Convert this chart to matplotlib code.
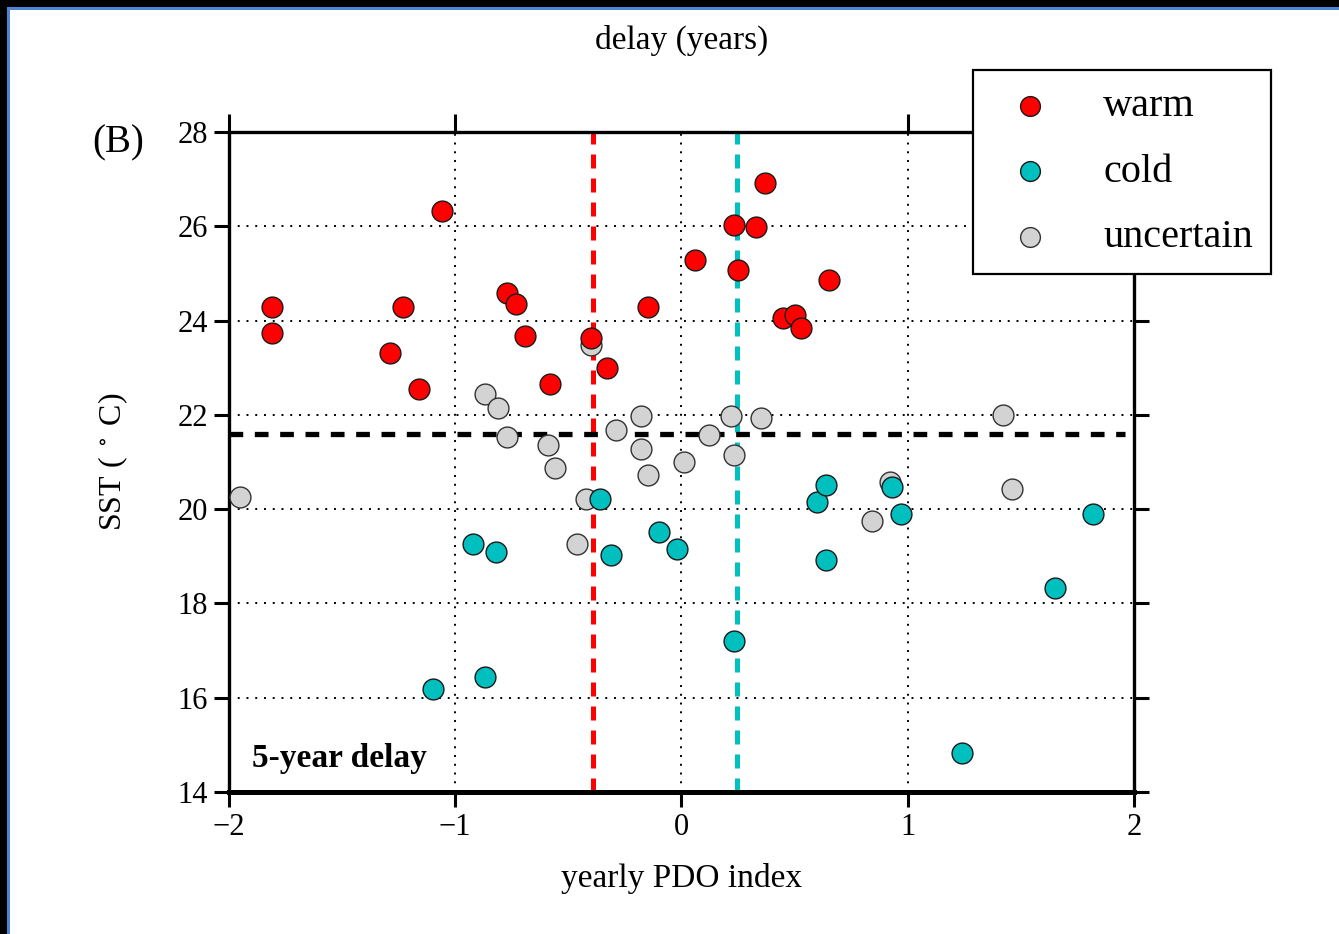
import matplotlib
matplotlib.use("Agg")
import matplotlib.pyplot as plt
from matplotlib.patches import Rectangle

plt.rcParams['font.family'] = ['Liberation Serif', 'DejaVu Serif']
plt.rcParams['mathtext.fontset'] = 'stix'

# yearly PDO index vs SST, classified events
warm_pdo = [-1.81, -1.81, -1.23, -1.29, -1.16, -1.06, -0.77, -0.73, -0.69, -0.58,
            -0.40, -0.33, -0.15, 0.06, 0.23, 0.33, 0.25, 0.37, 0.45, 0.50, 0.53, 0.65]
warm_sst = [24.29, 23.74, 24.29, 23.31, 22.55, 26.32, 24.58, 24.35, 23.67, 22.65,
            23.63, 23.00, 24.29, 25.28, 26.03, 25.98, 25.07, 26.92, 24.05, 24.12, 23.84, 24.86]

cold_pdo = [-1.10, -0.87, -0.92, -0.82, -0.36, -0.31, -0.10, -0.02, 0.23, 0.60,
            0.64, 0.64, 0.93, 0.97, 1.24, 1.65, 1.82]
cold_sst = [16.18, 16.44, 19.26, 19.09, 20.21, 19.03, 19.51, 19.15, 17.20, 20.15,
            20.51, 18.92, 20.47, 19.90, 14.83, 18.33, 19.90]

unc_pdo = [-1.95, -0.87, -0.81, -0.77, -0.59, -0.56, -0.40, -0.42, -0.46, -0.29,
           -0.18, -0.18, -0.15, 0.01, 0.12, 0.22, 0.23, 0.35, 0.92, 0.84, 1.42, 1.46]
unc_sst = [20.26, 22.44, 22.15, 21.53, 21.36, 20.87, 23.48, 20.21, 19.26, 21.68,
           21.98, 21.28, 20.72, 21.00, 21.57, 21.98, 21.15, 21.93, 20.58, 19.75, 22.00, 20.43]

# thresholds
pdo_warm_thr = -0.39
pdo_cold_thr = 0.245
sst_thr = 21.6

xticks = [-2, -1, 0, 1, 2]
xticklabels = ['\u22122', '\u22121', '0', '1', '2']
top_xticks = [-2, -1, 1, 2]
yticks = [14, 16, 18, 20, 22, 24, 26, 28]

fig = plt.figure(figsize=(13.39, 9.34), dpi=100)
fig.patch.set_facecolor('white')

# dark frame along top and left edge
W, H = 1339, 934
fig.patches.append(Rectangle((0, 1 - 7 / H), 1, 7 / H, transform=fig.transFigure,
                             facecolor='black', edgecolor='none', zorder=-1))
fig.patches.append(Rectangle((0, 0), 7 / W, 1, transform=fig.transFigure,
                             facecolor='black', edgecolor='none', zorder=-1))
fig.patches.append(Rectangle((7 / W, 0), 2.5 / W, 1 - 7 / H, transform=fig.transFigure,
                             facecolor='#4a86d4', edgecolor='none', zorder=-1))
fig.patches.append(Rectangle((7 / W, 1 - 9.5 / H), 1, 2.5 / H, transform=fig.transFigure,
                             facecolor='#4a86d4', edgecolor='none', zorder=-1))

ax = fig.add_axes([229 / W, 1 - 792 / H, (1134 - 229) / W, (792 - 132) / H])
ax.set_xlim(-2, 2)
ax.set_ylim(14, 28)

ax.grid(True, color='black', linestyle=(0, (1, 3.5)), linewidth=1.4, zorder=0)

ms = 225
ax.scatter(unc_pdo, unc_sst, s=ms, c='#d3d3d3', edgecolors='#333333', linewidths=1.0,
           zorder=3, label='uncertain')
ax.scatter(cold_pdo, cold_sst, s=ms, c='#00bfbf', edgecolors='#1a1a1a', linewidths=1.0,
           zorder=3, label='cold')
ax.scatter(warm_pdo, warm_sst, s=ms, c='#ff0000', edgecolors='#1a1a1a', linewidths=1.0,
           zorder=3, label='warm')

ax.axvline(pdo_warm_thr, color='#ff0000', linewidth=3.6, dashes=(2.8, 2.0), zorder=2)
ax.axvline(pdo_cold_thr, color='#00c0c0', linewidth=3.6, dashes=(2.8, 2.0), zorder=2)
ax.plot([-2, 1.96], [sst_thr, sst_thr], color='black', linewidth=3.8,
        dashes=(2.6, 2.2), zorder=2)

ax.set_xticks(xticks)
ax.set_xticklabels(xticklabels)
ax.set_yticks(yticks)
ax.tick_params(axis='both', direction='out', length=11, width=2.2, labelsize=22,
               pad=4, right=True)
for side in ['left', 'right', 'top']:
    ax.spines[side].set_linewidth(2.4)
ax.spines['bottom'].set_linewidth(3.6)

ax.set_xlabel('yearly PDO index', fontsize=24, labelpad=15)
ax.set_ylabel('SST ( $^\\circ$ C)', fontsize=23, labelpad=34)

ax.text(0.025, 0.028, '5-year delay', transform=ax.transAxes, fontsize=24,
        fontweight='bold', ha='left', va='bottom')

# upper axis carrying the delay ticks
ax2 = ax.twiny()
ax2.set_xlim(-2, 2)
ax2.set_xticks(top_xticks)
ax2.set_xticklabels([])
ax2.tick_params(axis='x', direction='out', length=13, width=2.2)
for sp in ax2.spines.values():
    sp.set_visible(False)

fig.text(682 / W, 1 - 40 / H, 'delay (years)', fontsize=24, ha='center', va='center')
fig.text(118 / W, 1 - 143 / H, '(B)', fontsize=28, ha='center', va='center')

handles, labels = ax.get_legend_handles_labels()
order = [2, 1, 0]
leg = fig.legend([handles[i] for i in order], [labels[i] for i in order],
                 loc='upper left', bbox_to_anchor=(973 / W, 1 - 70 / H),
                 fontsize=29, frameon=True, fancybox=False, framealpha=1,
                 edgecolor='black', handletextpad=0.84, labelspacing=0.70,
                 borderpad=0.45, borderaxespad=0, markerscale=0.95,
                 handlelength=1.94)
leg.get_frame().set_linewidth(1.6)

fig.savefig('out.png', dpi=100, facecolor='white')
